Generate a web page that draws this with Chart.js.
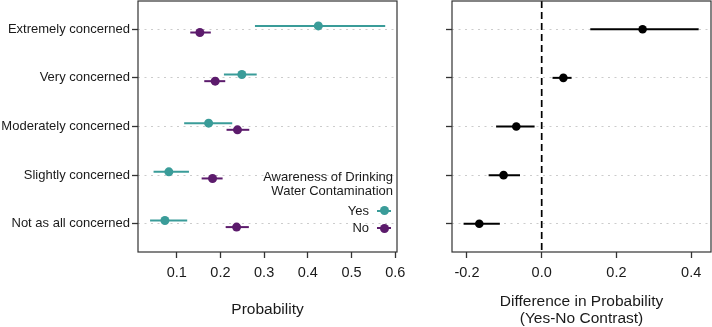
<!DOCTYPE html>
<html>
<head>
<meta charset="utf-8">
<script src="https://cdn.jsdelivr.net/npm/chart.js@4/dist/chart.umd.min.js"></script>
<style>
  body { margin: 0; width: 712px; height: 327px; background: #fff; position: relative; overflow: hidden;
         font-family: "Liberation Sans", Arial, sans-serif; color: #1a1a1a; }
  canvas { position: absolute; top: 0; }
  #probChart { left: 0; }
  #diffChart { left: 410px; }
  .lg { position: absolute; font-size: 13px; white-space: nowrap; text-align: right; }
  .key { position: absolute; width: 14px; height: 2px; }
  .key span { position: absolute; left: 3px; top: -3.5px; width: 9px; height: 9px; border-radius: 50%; }
</style>
</head>
<body>
<canvas id="probChart" width="410" height="327"></canvas>
<canvas id="diffChart" width="302" height="327"></canvas>

<div class="lg" style="right:319px; top:170px; line-height:13.7px;">Awareness of Drinking<br>Water Contamination</div>
<div class="lg" style="right:343px; top:202.5px; line-height:16px;">Yes</div>
<div class="lg" style="right:343px; top:220px; line-height:16px;">No</div>
<div class="key" style="left:377px; top:209.7px; background:#3a9c99;"><span style="background:#3a9c99"></span></div>
<div class="key" style="left:377px; top:227.3px; background:#5c1b6c;"><span style="background:#5c1b6c"></span></div>

<script>
const categories = ['Extremely concerned', 'Very concerned', 'Moderately concerned', 'Slightly concerned', 'Not as all concerned'];

// probability by awareness (Yes / No) with intervals
const yesProb = [0.424, 0.249, 0.173, 0.082, 0.073];
const yesLow  = [0.279, 0.208, 0.117, 0.047, 0.039];
const yesHigh = [0.577, 0.283, 0.227, 0.128, 0.124];
const noProb  = [0.153, 0.188, 0.239, 0.182, 0.237];
const noLow   = [0.131, 0.163, 0.214, 0.157, 0.212];
const noHigh  = [0.178, 0.211, 0.266, 0.205, 0.265];

// Yes-No contrast
const diffEst  = [0.270, 0.058, -0.068, -0.102, -0.167];
const diffLow  = [0.130, 0.029, -0.122, -0.142, -0.209];
const diffHigh = [0.420, 0.080, -0.019, -0.058, -0.112];

const probTicks = [0.1, 0.2, 0.3, 0.4, 0.5, 0.6];
const diffTicks = [-0.2, 0.0, 0.2, 0.4];

const TEAL = '#3a9c99';
const PURPLE = '#5c1b6c';
const FONT = '"Liberation Sans", Arial, sans-serif';
const DODGE = 0.068;

function ranges(lo, hi, shift, color) {
  return categories.map((c, i) => ({
    type: 'scatter', showLine: true, data: [{x: lo[i], y: i + 1 + shift}, {x: hi[i], y: i + 1 + shift}],
    borderColor: color, borderWidth: 2, pointRadius: 0
  }));
}

function points(vals, shift, color, r) {
  return {
    type: 'scatter', data: vals.map((v, i) => ({x: v, y: i + 1 + shift})),
    backgroundColor: color, borderColor: color, pointRadius: r, borderWidth: 0
  };
}

const panelBorder = {
  id: 'panelBorder',
  afterDraw(chart) {
    const {ctx, chartArea: a} = chart;
    ctx.save();
    ctx.strokeStyle = '#333';
    ctx.lineWidth = 1.2;
    ctx.strokeRect(a.left, a.top, a.right - a.left, a.bottom - a.top);
    ctx.restore();
  }
};

function yScale(width, showLabels) {
  return {
    type: 'linear', reverse: true, min: 0.42, max: 5.58,
    afterBuildTicks: s => { s.ticks = categories.map((c, i) => ({value: i + 1})); },
    // labels sit well inside the panel, so no extra room above/below
    afterFit: s => { s.width = width; s.paddingTop = 0; s.paddingBottom = 0; },
    border: {display: false, dash: [2, 4.5]},
    grid: {color: '#cccccc', lineWidth: 1, tickColor: '#333', tickWidth: 1.3, tickLength: 6},
    ticks: {
      padding: 2, color: '#1a1a1a', font: {family: FONT, size: 13},
      callback: v => showLabels ? categories[v - 1] : ''
    }
  };
}

function xScale(min, max, tickVals, title, padBottom) {
  return {
    type: 'linear', min: min, max: max,
    afterBuildTicks: s => { s.ticks = tickVals.map(v => ({value: v})); },
    afterFit: s => { s.height = 75; s.paddingLeft = 0; s.paddingRight = 0; },
    border: {display: false},
    grid: {drawOnChartArea: false, tickColor: '#333', tickWidth: 1.3, tickLength: 6},
    ticks: {padding: 6, color: '#1a1a1a', font: {family: FONT, size: 14.5}, callback: v => v.toFixed(1)},
    title: {display: true, text: title, color: '#1a1a1a', font: {family: FONT, size: 15.5, lineHeight: 1.05},
            padding: {top: 0, bottom: padBottom}}
  };
}

const commonPlugins = {legend: {display: false}, tooltip: {enabled: false}};

document.addEventListener('DOMContentLoaded', function() {
  new Chart(document.getElementById('probChart'), {
    type: 'scatter',
    data: {
      datasets: [
        ...ranges(yesLow, yesHigh, -DODGE, TEAL),
        ...ranges(noLow, noHigh, DODGE, PURPLE),
        points(yesProb, -DODGE, TEAL, 4.5),
        points(noProb, DODGE, PURPLE, 4.5)
      ]
    },
    options: {
      responsive: false, animation: false,
      layout: {autoPadding: false, padding: {top: 1, right: 13, left: 0, bottom: 0}},
      plugins: commonPlugins,
      scales: {
        x: xScale(0.0114, 0.604, probTicks, 'Probability', 8.85),
        y: yScale(138, true)
      }
    },
    plugins: [panelBorder]
  });

  new Chart(document.getElementById('diffChart'), {
    type: 'scatter',
    data: {
      datasets: [
        {type: 'scatter', showLine: true, data: [{x: 0, y: 0.42}, {x: 0, y: 5.58}],
         borderColor: '#000', borderWidth: 1.7, borderDash: [7, 4], pointRadius: 0},
        ...ranges(diffLow, diffHigh, 0, '#000'),
        points(diffEst, 0, '#000', 4.3)
      ]
    },
    options: {
      responsive: false, animation: false,
      layout: {autoPadding: false, padding: {top: 1, right: 1, left: 0, bottom: 0}},
      plugins: commonPlugins,
      scales: {
        x: xScale(-0.240, 0.453, diffTicks, ['Difference in Probability', '(Yes-No Contrast)'], 0.55),
        y: yScale(42, false)
      }
    },
    plugins: [panelBorder]
  });
});
</script>
</body>
</html>
